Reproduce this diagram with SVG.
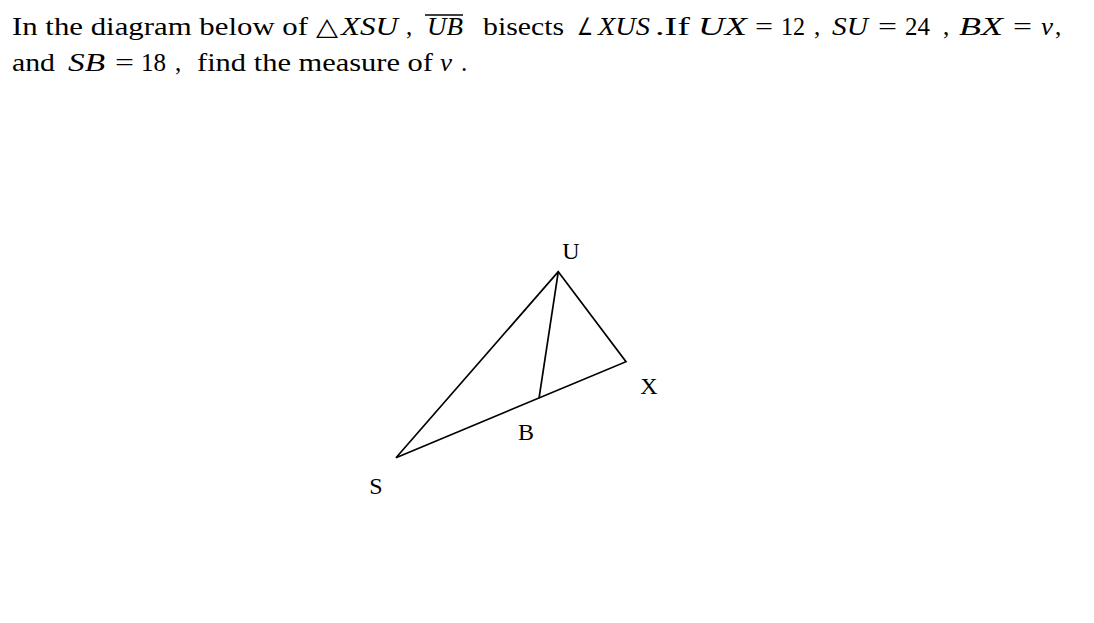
<svg xmlns="http://www.w3.org/2000/svg" width="1094" height="623" viewBox="0 0 1094 623">
<style>
.t{font-family:"Liberation Serif","DejaVu Serif",serif;font-size:25px;fill:#000}
.i{font-style:italic}
.sym{font-family:"DejaVu Sans","Noto Sans",sans-serif;font-size:24px;fill:#000}
.lbl{font-family:"Liberation Serif","DejaVu Serif",serif;font-size:24px;fill:#000;text-anchor:middle}
.edge{stroke:#000;stroke-width:1.7;fill:none;stroke-linejoin:miter}
</style>
<rect width="1094" height="623" fill="#fff"/>
<g id="question">
<text class="t" x="12" y="35" textLength="296" lengthAdjust="spacingAndGlyphs">In the diagram below of</text>
<text class="t" x="316" y="35" textLength="22" lengthAdjust="spacingAndGlyphs">△</text>
<text class="t i" x="341" y="35" textLength="57" lengthAdjust="spacingAndGlyphs">XSU</text>
<text class="t" x="406" y="35">,</text>
<text class="t i" x="427" y="35" textLength="36" lengthAdjust="spacingAndGlyphs">UB</text>
<line x1="425" y1="15" x2="463" y2="15" stroke="#000" stroke-width="1.3"/>
<text class="t" x="483" y="35" textLength="81" lengthAdjust="spacingAndGlyphs">bisects</text>
<text class="sym" x="577" y="35" textLength="16" lengthAdjust="spacingAndGlyphs">∠</text>
<text class="t i" x="598" y="35" textLength="52" lengthAdjust="spacingAndGlyphs">XUS</text>
<text class="t" x="655" y="35" textLength="35" lengthAdjust="spacingAndGlyphs">.If</text>
<text class="t i" x="698" y="35" textLength="49" lengthAdjust="spacingAndGlyphs">UX</text>
<text class="t" x="755" y="35" textLength="18" lengthAdjust="spacingAndGlyphs">=</text>
<text class="t" x="781" y="35" textLength="24" lengthAdjust="spacingAndGlyphs">12</text>
<text class="t" x="814" y="35">,</text>
<text class="t i" x="832" y="35" textLength="36" lengthAdjust="spacingAndGlyphs">SU</text>
<text class="t" x="878" y="35" textLength="19" lengthAdjust="spacingAndGlyphs">=</text>
<text class="t" x="905" y="35" textLength="25" lengthAdjust="spacingAndGlyphs">24</text>
<text class="t" x="943" y="35">,</text>
<text class="t i" x="959" y="35" textLength="44" lengthAdjust="spacingAndGlyphs">BX</text>
<text class="t" x="1013" y="35" textLength="19" lengthAdjust="spacingAndGlyphs">=</text>
<text class="t i" x="1041" y="35" textLength="12" lengthAdjust="spacingAndGlyphs">v</text>
<text class="t" x="1055" y="35">,</text>
<text class="t" x="12" y="71" textLength="43" lengthAdjust="spacingAndGlyphs">and</text>
<text class="t i" x="68" y="71" textLength="37" lengthAdjust="spacingAndGlyphs">SB</text>
<text class="t" x="115" y="71" textLength="19" lengthAdjust="spacingAndGlyphs">=</text>
<text class="t" x="141" y="71" textLength="25" lengthAdjust="spacingAndGlyphs">18</text>
<text class="t" x="175" y="71">,</text>
<text class="t" x="197" y="71" textLength="236" lengthAdjust="spacingAndGlyphs">find the measure of</text>
<text class="t i" x="440" y="71" textLength="12" lengthAdjust="spacingAndGlyphs">v</text>
<text class="t" x="461" y="71">.</text>
</g>
<g id="connectors">
<polygon class="edge" points="558.3,271.7 626,361.7 396,457.7"/>
<line class="edge" x1="558.3" y1="271.7" x2="539" y2="398.3"/>
</g>
<g id="node-U"><text class="lbl" x="571" y="259">U</text></g>
<g id="node-X"><text class="lbl" x="649" y="394">X</text></g>
<g id="node-B"><text class="lbl" x="526" y="440">B</text></g>
<g id="node-S"><text class="lbl" x="376" y="494">S</text></g>
</svg>
